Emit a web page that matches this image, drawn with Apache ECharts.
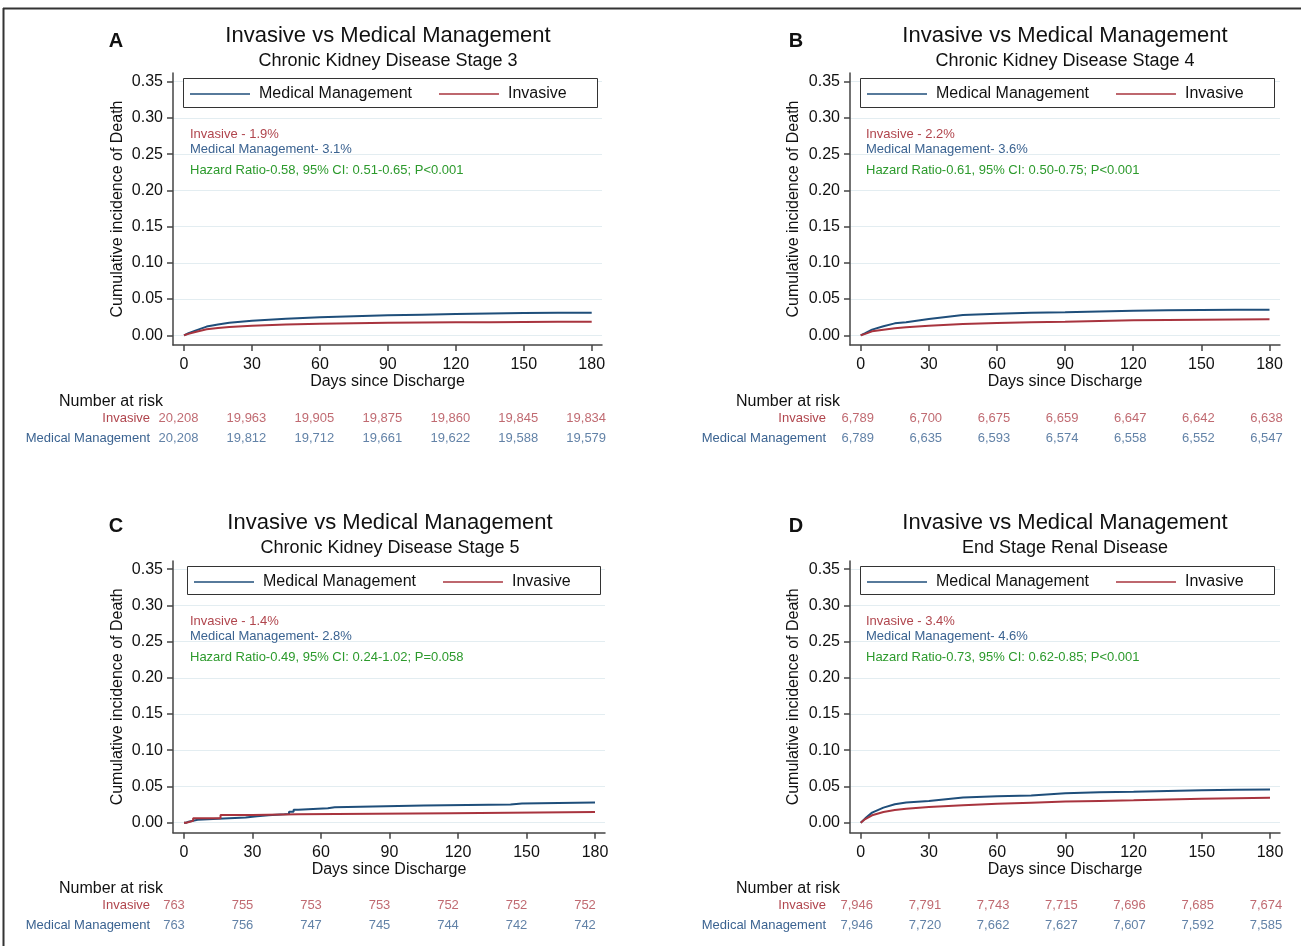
<!DOCTYPE html>
<html><head><meta charset="utf-8">
<script src="https://cdn.jsdelivr.net/npm/echarts@6/dist/echarts.min.js"></script>
<style>html,body{margin:0;padding:0;background:#fff}#c{width:1301px;height:946px}</style>
</head><body><div id="c"></div>
<script>
// ---------- DATA ----------
const dayTicks = [0, 30, 60, 90, 120, 150, 180];
const yTicks = [0, 0.05, 0.10, 0.15, 0.20, 0.25, 0.30, 0.35];
const seriesNames = ['Medical Management', 'Invasive'];

// Panel A: CKD stage 3
const daysA = [0, 2, 5, 10, 15, 20, 30, 45, 60, 75, 90, 105, 120, 135, 150, 165, 180];
const medA = [0, 0.003, 0.0064, 0.012, 0.015, 0.0174, 0.020, 0.0228, 0.0248, 0.0263, 0.0275, 0.0285, 0.0294, 0.0301, 0.0307, 0.031, 0.0312];
const invA = [0, 0.002, 0.0046, 0.0083, 0.010, 0.0115, 0.0133, 0.0149, 0.016, 0.0168, 0.0174, 0.0177, 0.0179, 0.0181, 0.0183, 0.0186, 0.0188];
const riskInvA = [20208, 19963, 19905, 19875, 19860, 19845, 19834];
const riskMedA = [20208, 19812, 19712, 19661, 19622, 19588, 19579];

// Panel B: CKD stage 4
const daysB = [0, 2, 5, 10, 15, 20, 30, 45, 60, 75, 90, 105, 120, 135, 150, 165, 180];
const medB = [0, 0.003, 0.0078, 0.0124, 0.0165, 0.0179, 0.0225, 0.028, 0.0298, 0.031, 0.0317, 0.0328, 0.034, 0.0345, 0.035, 0.0352, 0.0353];
const invB = [0, 0.002, 0.0055, 0.0078, 0.0096, 0.011, 0.0133, 0.0155, 0.017, 0.018, 0.0188, 0.0198, 0.0206, 0.0211, 0.0216, 0.0218, 0.022];
const riskInvB = [6789, 6700, 6675, 6659, 6647, 6642, 6638];
const riskMedB = [6789, 6635, 6593, 6574, 6558, 6552, 6547];

// Panel C: CKD stage 5 (step curves)
const daysCmed = [0, 1, 2, 6, 15, 27, 32, 37, 44, 46, 48, 50, 63, 66, 105, 143, 148, 180];
const medC = [0, 0.0014, 0.004, 0.0056, 0.0072, 0.0088, 0.0102, 0.0115, 0.012, 0.015, 0.018, 0.0198, 0.0212, 0.0236, 0.0252, 0.0266, 0.028, 0.028];
const daysCinv = [0, 1, 4, 16, 30, 50, 117, 180];
const invC = [0, 0.0025, 0.006, 0.0105, 0.0118, 0.0131, 0.0146, 0.0146];
const riskInvC = [763, 755, 753, 753, 752, 752, 752];
const riskMedC = [763, 756, 747, 745, 744, 742, 742];

// Panel D: ESRD
const daysD = [0, 2, 5, 10, 15, 20, 30, 45, 60, 75, 90, 105, 120, 135, 150, 165, 180];
const medD = [0, 0.006, 0.0139, 0.0208, 0.0255, 0.0278, 0.030, 0.0347, 0.0366, 0.0375, 0.0407, 0.042, 0.0426, 0.0438, 0.0449, 0.0455, 0.0458];
const invD = [0, 0.005, 0.0102, 0.0148, 0.0176, 0.0194, 0.0218, 0.024, 0.026, 0.0276, 0.0292, 0.0301, 0.031, 0.032, 0.0329, 0.0336, 0.0343];
const riskInvD = [7946, 7791, 7743, 7715, 7696, 7685, 7674];
const riskMedD = [7946, 7720, 7662, 7627, 7607, 7592, 7585];

const titles = ['Invasive vs Medical Management', 'Invasive vs Medical Management', 'Invasive vs Medical Management', 'Invasive vs Medical Management'];
const subtitles = ['Chronic Kidney Disease Stage 3', 'Chronic Kidney Disease Stage 4', 'Chronic Kidney Disease Stage 5', 'End Stage Renal Disease'];
const letters = ['A', 'B', 'C', 'D'];
const noteInv = ['Invasive - 1.9%', 'Invasive - 2.2%', 'Invasive - 1.4%', 'Invasive - 3.4%'];
const noteMed = ['Medical Management- 3.1%', 'Medical Management- 3.6%', 'Medical Management- 2.8%', 'Medical Management- 4.6%'];
const noteHR = ['Hazard Ratio-0.58, 95% CI: 0.51-0.65; P<0.001', 'Hazard Ratio-0.61, 95% CI: 0.50-0.75; P<0.001', 'Hazard Ratio-0.49, 95% CI: 0.24-1.02; P=0.058', 'Hazard Ratio-0.73, 95% CI: 0.62-0.85; P<0.001'];

// ---------- STYLE / LAYOUT ----------
const FONT = '"Liberation Sans", Arial, Helvetica, sans-serif';
const BLUE = '#1f4e7a', RED = '#a8343e';
const TXT_RED = '#b0454d', TXT_BLUE = '#3b6391', TXT_GREEN = '#2c9a2c';
const AX = '#444';

const curves = [
  {med: [daysA, medA], inv: [daysA, invA], step: false, rInv: riskInvA, rMed: riskMedA},
  {med: [daysB, medB], inv: [daysB, invB], step: false, rInv: riskInvB, rMed: riskMedB},
  {med: [daysCmed, medC], inv: [daysCinv, invC], step: 'end', rInv: riskInvC, rMed: riskMedC},
  {med: [daysD, medD], inv: [daysD, invD], step: false, rInv: riskInvD, rMed: riskMedD}
];

const L = [
  {axL:173, axR:602, x0:184, x180:591.7, axT:73, axB:345, y0:335.3, y35:81.7, legL:183, legR:597, legT:78, legB:107, cx:388, tY:36, sY:61, lx:116, ly:41, ytX:118, noteX:190, noteY:134, narX:111, narY:402, rowR:150, row1:418, row2:438, rdx:-5.5},
  {axL:850, axR:1280, x0:860.7, x180:1269.5, axT:73, axB:345, y0:335.3, y35:81.7, legL:860, legR:1274, legT:78, legB:107, cx:1065, tY:36, sY:61, lx:796, ly:41, ytX:794, noteX:866, noteY:134, narX:788, narY:402, rowR:826, row1:418, row2:438, rdx:-3},
  {axL:173, axR:605, x0:184, x180:595, axT:561, axB:832.7, y0:822.7, y35:569.1, legL:187, legR:600, legT:566, legB:594, cx:390, tY:523, sY:548, lx:116, ly:526, ytX:118, noteX:190, noteY:621, narX:111, narY:889, rowR:150, row1:905, row2:925, rdx:-10},
  {axL:850, axR:1280, x0:860.7, x180:1270, axT:561, axB:832.7, y0:822.7, y35:569.1, legL:860, legR:1274, legT:566, legB:594, cx:1065, tY:523, sY:548, lx:796, ly:526, ytX:794, noteX:866, noteY:621, narX:788, narY:889, rowR:826, row1:905, row2:925, rdx:-4}
];

const grid = [], xAxis = [], yAxis = [], series = [], legend = [], elements = [];

L.forEach((p, i) => {
  const sx = (p.x180 - p.x0) / 180;
  const xmin = -(p.x0 - p.axL) / sx, xmax = 180 + (p.axR - p.x180) / sx;
  const sy = (p.y0 - p.y35) / 0.35;
  const ymin = -(p.axB - p.y0) / sy, ymax = 0.35 + (p.y35 - p.axT) / sy;
  const gPlot = grid.length;
  grid.push({left: p.axL, top: p.axT, width: p.axR - p.axL, height: p.axB - p.axT, containLabel: false});
  xAxis.push({gridIndex: gPlot, type: 'value', min: xmin, max: xmax,
    axisLine: {show: true, onZero: false, lineStyle: {color: AX, width: 1.5}},
    axisTick: {show: true, length: 6, customValues: dayTicks, lineStyle: {color: AX, width: 1.5}},
    axisLabel: {customValues: dayTicks, fontSize: 16, color: '#111', margin: 12, fontFamily: FONT},
    splitLine: {show: false}});
  yAxis.push({gridIndex: gPlot, type: 'value', min: ymin, max: ymax,
    axisLine: {show: true, onZero: false, lineStyle: {color: AX, width: 1.5}},
    axisTick: {show: true, length: 6, customValues: yTicks, lineStyle: {color: AX, width: 1.5}},
    axisLabel: {customValues: yTicks, fontSize: 16, color: '#111', margin: 10, fontFamily: FONT, formatter: v => v.toFixed(2)},
    splitLine: {show: true, lineStyle: {color: '#e3edf1', width: 1}}});
  const c = curves[i];
  [['Medical Management', c.med, BLUE], ['Invasive', c.inv, RED]].forEach(([nm, d, col]) => {
    series.push({type: 'line', name: nm, xAxisIndex: gPlot, yAxisIndex: gPlot, symbol: 'none', step: c.step,
      data: d[0].map((x, k) => [x, d[1][k]]), lineStyle: {color: col, width: 2}, itemStyle: {color: col},
      silent: true, animation: false, z: nm === 'Invasive' ? 3 : 2});
  });
  // risk table grid
  const gRisk = grid.length;
  grid.push({left: p.axL, top: p.row1 - 10, width: p.axR - p.axL, height: 40});
  xAxis.push({gridIndex: gRisk, type: 'value', min: xmin, max: xmax, show: false});
  yAxis.push({gridIndex: gRisk, type: 'category', data: ['Invasive', 'Medical Management'], inverse: true,
    axisLine: {show: false}, axisTick: {show: false}, splitLine: {show: false},
    axisLabel: {margin: p.axL - p.rowR, fontSize: 13, fontFamily: FONT, color: v => v === 'Invasive' ? TXT_RED : TXT_BLUE}});
  [['Invasive', c.rInv, TXT_RED], ['Medical Management', c.rMed, TXT_BLUE]].forEach(([row, vals, col]) => {
    series.push({type: 'scatter', name: 'risk-' + row, xAxisIndex: gRisk, yAxisIndex: gRisk, symbolSize: 1,
      itemStyle: {color: 'rgba(0,0,0,0)'}, silent: true, animation: false,
      data: dayTicks.map((d, k) => [d, row, vals[k]]),
      label: {show: true, position: 'inside', offset: [p.rdx, 0], fontSize: 13, fontFamily: FONT, color: col,
        formatter: q => q.value[2].toLocaleString('en-US')}});
  });
  legend.push({left: p.legL + 7, top: p.legT + 8, data: seriesNames.map(n => ({name: n, icon: 'rect'})), orient: 'horizontal',
    itemWidth: 60, itemHeight: 1.6, itemGap: 27, padding: 0, selectedMode: false, z: 20,
    textStyle: {fontSize: 16, color: '#111', fontFamily: FONT, padding: [0, 0, 0, 4]}});
  elements.push({type: 'rect', z: 15, shape: {x: p.legL + 0.5, y: p.legT + 0.5, width: p.legR - p.legL, height: p.legB - p.legT},
    style: {fill: '#fff', stroke: '#333', lineWidth: 1}});
  const txt = (x, y, text, size, color, align, extra) => Object.assign({type: 'text', x, y, z: 20,
    style: {text, font: size + 'px ' + FONT, fill: color, align, textAlign: align, verticalAlign: 'middle', textVerticalAlign: 'middle'}}, extra || {});
  elements.push(txt(p.cx, p.tY, titles[i], 22, '#111', 'center'));
  elements.push(txt(p.cx, p.sY, subtitles[i], 18, '#111', 'center'));
  const lt = txt(p.lx, p.ly, letters[i], 20, '#111', 'center'); lt.style.font = 'bold 20px ' + FONT; elements.push(lt);
  elements.push(txt(p.ytX, (p.axT + p.axB) / 2, 'Cumulative incidence of Death', 16, '#111', 'center', {rotation: Math.PI / 2}));
  elements.push(txt((p.axL + p.axR) / 2, p.axB + 37, 'Days since Discharge', 16, '#111', 'center'));
  elements.push(txt(p.noteX, p.noteY, noteInv[i], 13, TXT_RED, 'left'));
  elements.push(txt(p.noteX, p.noteY + 15, noteMed[i], 13, TXT_BLUE, 'left'));
  elements.push(txt(p.noteX, p.noteY + 36, noteHR[i], 13, TXT_GREEN, 'left'));
  elements.push(txt(p.narX, p.narY, 'Number at risk', 16, '#111', 'center'));
});

// outer frame (top and left edges)
elements.push({type: 'line', z: 30, shape: {x1: 3, y1: 8.5, x2: 1301, y2: 8.5}, style: {stroke: '#333', lineWidth: 2}});
elements.push({type: 'line', z: 30, shape: {x1: 3.5, y1: 8, x2: 3.5, y2: 946}, style: {stroke: '#333', lineWidth: 2}});

const chart = echarts.init(document.getElementById('c'), null, {renderer: 'canvas'});
chart.setOption({animation: false, backgroundColor: '#fff', grid, xAxis, yAxis, series, legend, graphic: {elements}, tooltip: {show: false}});
</script>
</body></html>
